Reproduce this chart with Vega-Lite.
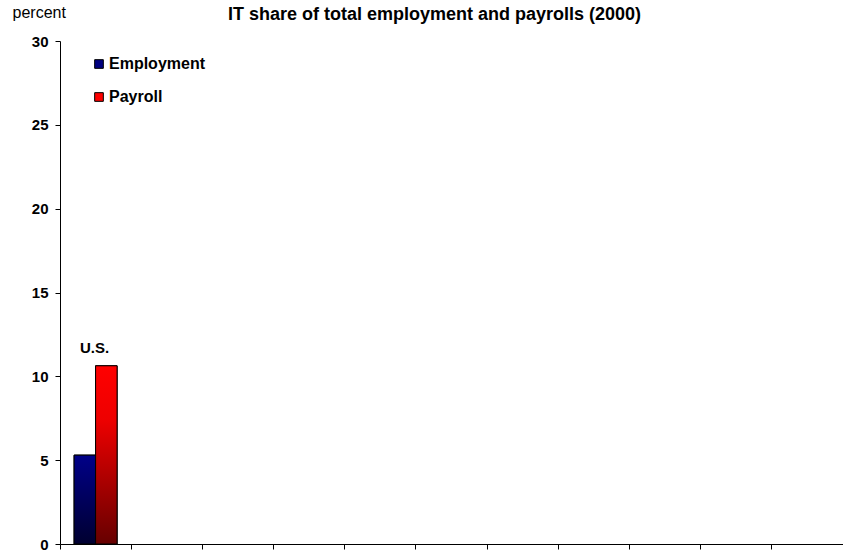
{
  "$schema": "https://vega.github.io/schema/vega-lite/v6.json",
  "width": 783,
  "height": 503,
  "autosize": {"type": "none"},
  "padding": {"left": 60, "top": 41, "right": 0, "bottom": 10},
  "background": "white",
  "config": {
    "font": "Liberation Sans",
    "view": {"stroke": null}
  },
  "title": {
    "text": "IT share of total employment and payrolls (2000)",
    "fontSize": 18,
    "fontWeight": "bold",
    "color": "#000000",
    "anchor": "middle",
    "frame": "group",
    "dx": -17,
    "dy": 20,
    "offset": 0
  },
  "data": {
    "values": [
      {"country": "U.S.", "series": "Employment", "value": 5.3},
      {"country": "U.S.", "series": "Payroll", "value": 10.63}
    ]
  },
  "encoding": {
    "x": {
      "field": "country",
      "type": "nominal",
      "scale": {"domain": ["U.S.", "c2", "c3", "c4", "c5", "c6", "c7", "c8", "c9", "c10", "c11"], "paddingInner": 0, "paddingOuter": 0},
      "axis": {"title": null, "labels": false, "bandPosition": 0, "tickSize": 5, "tickColor": "#000000", "domainColor": "#000000", "grid": false}
    },
    "y": {
      "field": "value",
      "type": "quantitative",
      "scale": {"domain": [0, 30], "nice": false},
      "axis": {
        "values": [0, 5, 10, 15, 20, 25, 30],
        "grid": false,
        "tickSize": 5,
        "tickColor": "#000000",
        "domainColor": "#000000",
        "labelFontSize": 15,
        "labelFontWeight": "bold",
        "labelColor": "#000000",
        "labelPadding": 7,
        "title": "percent",
        "titleAngle": 0,
        "titleX": -48,
        "titleY": -29,
        "titleAlign": "left",
        "titleBaseline": "middle",
        "titleFontSize": 16,
        "titleFontWeight": "normal",
        "titleColor": "#000000"
      }
    }
  },
  "layer": [
    {
      "mark": {"type": "bar", "stroke": "#000000", "strokeWidth": 1},
      "encoding": {
        "xOffset": {"field": "series", "type": "nominal", "scale": {"domain": ["Employment", "Payroll"], "paddingOuter": 0.656, "paddingInner": 0}},
        "color": {
          "field": "series",
          "type": "nominal",
          "scale": {"domain": ["Employment", "Payroll"], "range": ["#000080", "#ff0000"]},
          "legend": {
            "title": null,
            "orient": "none",
            "legendX": 31,
            "legendY": 15,
            "symbolType": "square",
            "symbolSize": 75,
            "symbolStrokeColor": "#000000",
            "symbolStrokeWidth": 1,
            "labelFontSize": 16,
            "labelFontWeight": "bold",
            "labelColor": "#000000",
            "labelOffset": 2,
            "rowPadding": 17
          }
        }
      }
    },
    {
      "transform": [{"filter": "datum.series === 'Employment'"}],
      "mark": {
        "type": "bar",
        "stroke": "#000000",
        "strokeWidth": 1,
        "color": {"gradient": "linear", "x1": 0, "y1": 0, "x2": 0, "y2": 1, "stops": [{"offset": 0, "color": "#000088"}, {"offset": 1, "color": "#000030"}]}
      },
      "encoding": {
        "xOffset": {"field": "series", "type": "nominal"}
      }
    },
    {
      "transform": [{"filter": "datum.series === 'Payroll'"}],
      "mark": {
        "type": "bar",
        "stroke": "#000000",
        "strokeWidth": 1,
        "color": {"gradient": "linear", "x1": 0, "y1": 0, "x2": 0, "y2": 1, "stops": [{"offset": 0, "color": "#ff0000"}, {"offset": 0.3, "color": "#ee0000"}, {"offset": 1, "color": "#660000"}]}
      },
      "encoding": {
        "xOffset": {"field": "series", "type": "nominal"}
      }
    },
    {
      "transform": [{"filter": "datum.series === 'Payroll'"}],
      "mark": {"type": "text", "dy": -18, "fontSize": 15, "fontWeight": "bold", "color": "#000000", "baseline": "middle", "dx": -1},
      "encoding": {
        "text": {"field": "country"}
      }
    }
  ]
}
